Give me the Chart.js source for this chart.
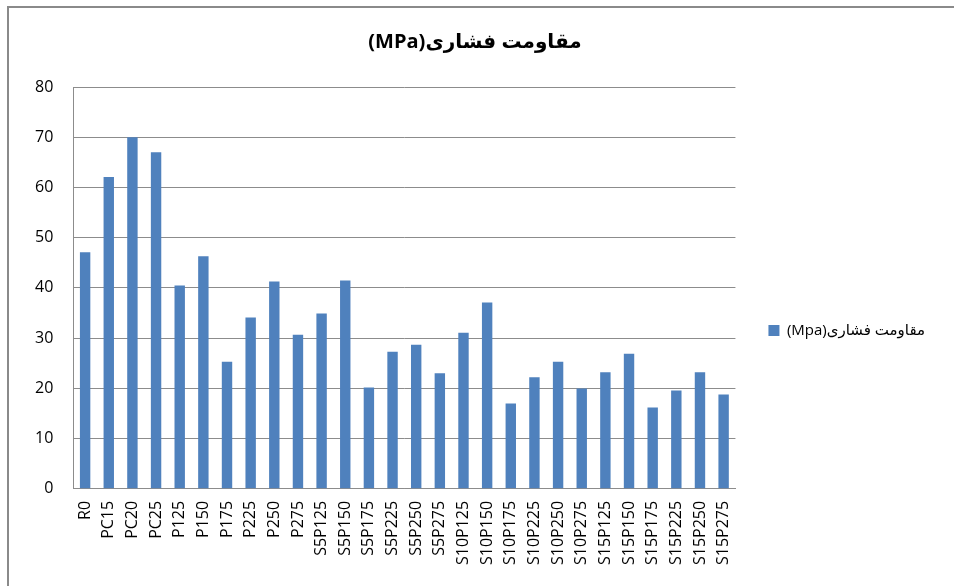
<!DOCTYPE html>
<html>
<head>
<meta charset="utf-8">
<script src="https://cdn.jsdelivr.net/npm/chart.js@4.4.0/dist/chart.umd.min.js"></script>
<style>
    html, body { margin: 0; padding: 0; background: #fff; }
    #wrap { width: 954px; height: 586px; position: relative; }
</style>
</head>
<body>
<div id="wrap"><canvas id="chart"></canvas></div>
<script>
// nomi dei campioni
var CATEGORIES = [
    'R0', 'PC15', 'PC20', 'PC25', 'P125', 'P150', 'P175', 'P225', 'P250', 'P275',
    'S5P125', 'S5P150', 'S5P175', 'S5P225', 'S5P250', 'S5P275',
    'S10P125', 'S10P150', 'S10P175', 'S10P225', 'S10P250', 'S10P275',
    'S15P125', 'S15P150', 'S15P175', 'S15P225', 'S15P250', 'S15P275'
];

// valori
var STRENGTH = [
    47.1, 62.1, 70.0, 67.0, 40.5, 46.3, 25.3, 34.1, 41.3, 30.7,
    34.9, 41.5, 20.2, 27.3, 28.7, 23.0,
    31.1, 37.1, 17.0, 22.2, 25.3, 20.0,
    23.2, 26.9, 16.2, 19.6, 23.2, 18.8
];

var Y_TICKS = [0, 10, 20, 30, 40, 50, 60, 70, 80];

var TITLE = '(MPa)مقاومت فشاری';
var SERIES_LABEL = '(Mpa)مقاومت فشاری';

var FONT = "'Open Sans', 'DejaVu Sans', sans-serif";

// cornice grigia del grafico (lato sinistro e superiore)
var framePlugin = {
    id: 'frame',
    beforeDraw: function (chart) {
        var c = chart.ctx;
        c.save();
        c.strokeStyle = '#8a8a8a';
        c.lineWidth = 2;
        c.beginPath();
        c.moveTo(8, chart.height + 2);
        c.lineTo(8, 7);
        c.lineTo(chart.width + 2, 7);
        c.stroke();
        c.restore();
    }
};

var ctx = document.getElementById('chart');

var myChart = new Chart(ctx, {
    type: 'bar',
    data: {
        labels: CATEGORIES,
        datasets: [{
            label: SERIES_LABEL,
            data: STRENGTH,
            backgroundColor: '#4F81BD',
            borderWidth: 0,
            barPercentage: 0.44,
            categoryPercentage: 1.0
        }]
    },
    options: {
        responsive: true,
        maintainAspectRatio: false,
        animation: false,
        layout: {
            padding: { top: 30, right: 19, bottom: 17, left: 15 }
        },
        plugins: {
            title: {
                display: true,
                text: TITLE,
                color: '#000',
                font: { family: FONT, size: 20, weight: 'bold' },
                padding: { top: 0, bottom: 33 }
            },
            legend: {
                position: 'right',
                // titolo vuoto solo per spostare la voce più in basso
                title: {
                    display: true,
                    text: '',
                    font: { family: FONT, size: 10 },
                    padding: { top: 0, bottom: 50 }
                },
                labels: {
                    color: '#000',
                    font: { family: FONT, size: 15 },
                    boxWidth: 11,
                    boxHeight: 11,
                    padding: 33
                }
            },
            tooltip: { enabled: false }
        },
        scales: {
            x: {
                grid: { display: false },
                border: { color: '#8c8c8c', width: 1 },
                ticks: {
                    color: '#000',
                    font: { family: FONT, size: 16 },
                    minRotation: 90,
                    maxRotation: 90,
                    autoSkip: false,
                    padding: 4
                }
            },
            y: {
                min: 0,
                max: 80,
                afterBuildTicks: function (axis) {
                    axis.ticks = Y_TICKS.map(function (v) { return { value: v }; });
                },
                grid: { color: '#8c8c8c', drawTicks: false },
                border: { color: '#8c8c8c', width: 1 },
                ticks: {
                    color: '#000',
                    font: { family: FONT, size: 16 },
                    padding: 20
                }
            }
        }
    },
    plugins: [framePlugin]
});
</script>
</body>
</html>
